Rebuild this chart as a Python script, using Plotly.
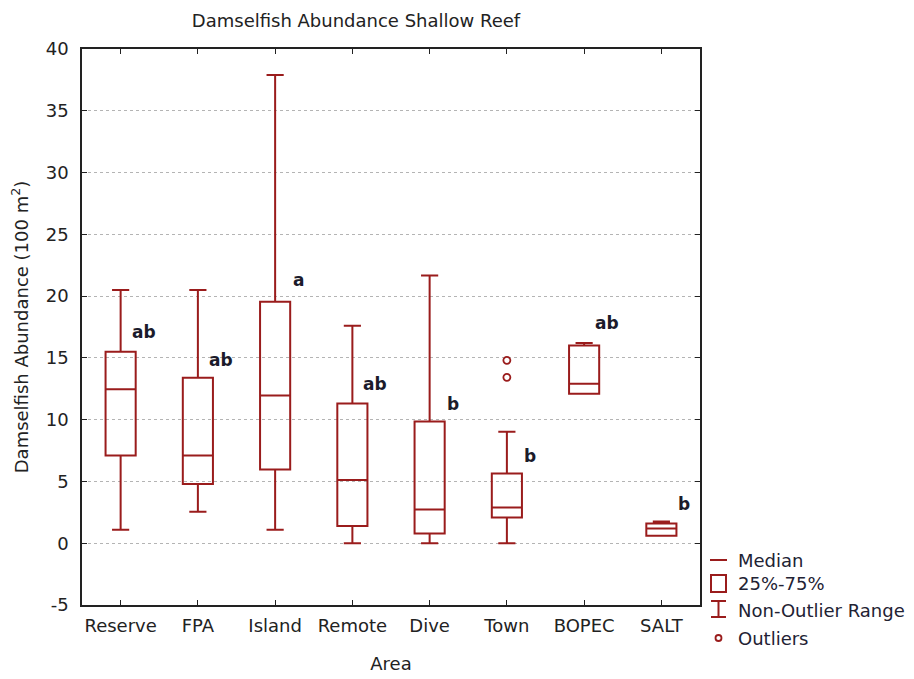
import plotly.graph_objects as go

areas = ["Reserve", "FPA", "Island", "Remote", "Dive", "Town", "BOPEC", "SALT"]
lower_whisker = [1.1, 2.55, 1.1, 0.0, 0.0, 0.0, 12.1, 0.6]
q1_values = [7.1, 4.8, 5.96, 1.4, 0.78, 2.08, 12.1, 0.6]
median_values = [12.46, 7.1, 11.95, 5.12, 2.72, 2.89, 12.9, 1.19]
q3_values = [15.5, 13.4, 19.55, 11.3, 9.85, 5.64, 16.0, 1.6]
upper_whisker = [20.5, 20.5, 37.9, 17.6, 21.66, 9.03, 16.2, 1.75]

outlier_area = ["Town", "Town"]
outlier_values = [13.43, 14.8]

group_letters = ["ab", "ab", "a", "ab", "b", "b", "ab", "b"]
letter_y = [17.1, 14.8, 21.3, 12.9, 11.3, 7.1, 17.8, 3.2]

y_ticks = [-5, 0, 5, 10, 15, 20, 25, 30, 35, 40]

RED = "#9a1c1c"
FONT = "DejaVu Sans, Verdana, sans-serif"
TXT = "#222"

# page offset of the figure (body margin)
OFF = 8
W, H = 914 - OFF, 679 - OFF
PL, PR, PT, PB = 82, 700, 49, 605  # plot area in page pixels

fig = go.Figure()
fig.add_trace(go.Box(
    x=areas, q1=q1_values, median=median_values, q3=q3_values,
    lowerfence=lower_whisker, upperfence=upper_whisker,
    boxpoints=False, width=0.39, whiskerwidth=0.57,
    line=dict(color=RED, width=2), fillcolor="rgba(255,255,255,0)",
    showlegend=False, hoverinfo="skip",
))
fig.add_trace(go.Scatter(
    x=outlier_area, y=outlier_values, mode="markers",
    marker=dict(symbol="circle-open", size=7, color=RED, line=dict(width=1.8, color=RED)),
    showlegend=False, hoverinfo="skip",
))

for a, t, yv in zip(areas, group_letters, letter_y):
    fig.add_annotation(x=a, y=yv, text="<b>%s</b>" % t, showarrow=False,
                       xshift=23, font=dict(family=FONT, size=17, color="#1b1b2b"))

# custom legend (positions in page pixels converted to paper fractions)
def px_x(px):
    return (px - PL) / float(PR - PL)

def px_y(py):
    return (PB - py) / float(PB - PT)

shape_line = dict(color=RED, width=2)
fig.add_shape(type="line", xref="paper", yref="paper", x0=px_x(710), x1=px_x(727),
              y0=px_y(560), y1=px_y(560), line=shape_line)
fig.add_shape(type="rect", xref="paper", yref="paper", x0=px_x(711), x1=px_x(726),
              y0=px_y(575), y1=px_y(592), line=shape_line)
fig.add_shape(type="line", xref="paper", yref="paper", x0=px_x(718.5), x1=px_x(718.5),
              y0=px_y(601), y1=px_y(617), line=shape_line)
fig.add_shape(type="line", xref="paper", yref="paper", x0=px_x(711), x1=px_x(726),
              y0=px_y(601), y1=px_y(601), line=shape_line)
fig.add_shape(type="line", xref="paper", yref="paper", x0=px_x(711), x1=px_x(726),
              y0=px_y(617), y1=px_y(617), line=shape_line)
fig.add_shape(type="circle", xref="paper", yref="paper", x0=px_x(715.5), x1=px_x(721.5),
              y0=px_y(635), y1=px_y(641), line=dict(color=RED, width=1.8))
for txt, py in [("Median", 560), ("25%-75%", 583), ("Non-Outlier Range", 610), ("Outliers", 638)]:
    fig.add_annotation(xref="paper", yref="paper", x=px_x(736), y=px_y(py), text=txt,
                       showarrow=False, xanchor="left", yanchor="middle",
                       font=dict(family=FONT, size=18, color="#222233"))

fig.update_layout(
    width=W, height=H,
    margin=dict(l=PL - OFF, r=W - (PR - OFF), t=PT - OFF, b=H - (PB - OFF), autoexpand=False),
    paper_bgcolor="white", plot_bgcolor="white",
    font=dict(family=FONT, size=18, color=TXT),
    title=dict(text="Damselfish Abundance Shallow Reef", x=(356 - OFF) / float(W), xanchor="center",
               y=1 - (21 - OFF) / float(H), yanchor="middle", font=dict(size=18, color=TXT)),
)
fig.update_xaxes(
    type="category", categoryorder="array", categoryarray=areas,
    range=[-0.5, 7.5], automargin=False,
    showline=True, linecolor="#222", linewidth=1.5, mirror="ticks",
    ticks="inside", ticklen=5, tickcolor="#222",
    showgrid=False, zeroline=False,
    tickfont=dict(size=18, color=TXT), ticklabelstandoff=4,
    title=dict(text="Area", font=dict(size=18, color=TXT), standoff=22),
)
fig.update_yaxes(
    range=[-5, 40], tickvals=y_ticks, ticktext=[str(v) for v in y_ticks],
    automargin=False,
    showline=True, linecolor="#222", linewidth=1.5, mirror="ticks",
    ticks="inside", ticklen=5, tickcolor="#222",
    showgrid=True, gridcolor="#b4b4b4", griddash="dot", gridwidth=1,
    zeroline=False,
    tickfont=dict(size=18, color=TXT), ticklabelstandoff=8,
    title=dict(text="Damselfish Abundance (100 m<sup>2</sup>)", font=dict(size=18, color=TXT), standoff=16),
)

fig.write_html("out.html")
